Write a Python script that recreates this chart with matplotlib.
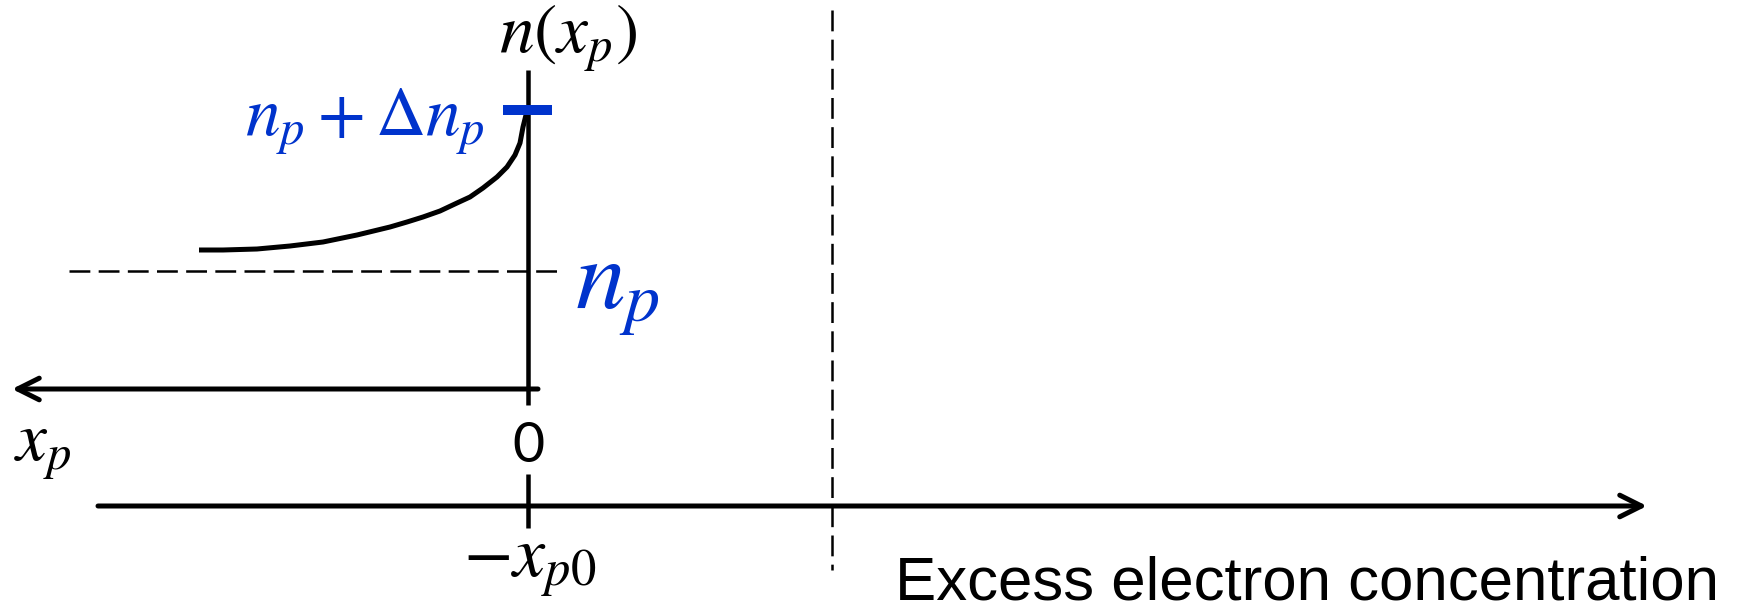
import matplotlib
matplotlib.use('Agg')
import matplotlib.pyplot as plt

# minority electron profile n(x_p) (pixel units, y down)
curve_x = [527, 526, 523, 520, 515, 507, 497, 483, 470, 457, 440, 423, 407, 390,
           357, 323, 290, 257, 223, 199]
curve_y = [110, 115, 127, 143, 155, 167, 177, 188, 197, 203, 211, 217, 222, 227,
           235, 242, 246, 249, 250, 250]

origin_x = 528          # x_p = 0 / -x_p0
level_np = 271          # equilibrium n_p
level_top = 110         # n_p + dn_p
junction_x = 832        # dashed junction edge

upper_axis_y = 389
lower_axis_y = 506

labels_black = [r'$n(x_p)$', r'$x_p$', '0', r'$-x_{p0}$']
labels_blue = [r'$n_p + \Delta n_p$', r'$n_p$']
xlabel_text = 'Excess electron concentration'

BLUE = '#0033cc'

plt.rcParams['mathtext.fontset'] = 'stix'
plt.rcParams['lines.scale_dashes'] = False

fig = plt.figure(figsize=(17.6, 6.11), dpi=100)
ax = fig.add_axes([0, 0, 1, 1])
ax.set_xlim(0, 1760)
ax.set_ylim(611, 0)
ax.axis('off')

lw = 3.6
dash = (15, 6)

# curve
ax.plot(curve_x, curve_y, color='black', lw=lw, solid_capstyle='butt',
        solid_joinstyle='round')

# vertical n axis
ax.plot([origin_x, origin_x], [70, 405], color='black', lw=lw * 0.9, solid_capstyle='butt')

# blue tick at n_p + dn_p
ax.plot([503, 552], [level_top, level_top], color=BLUE, lw=7.2, solid_capstyle='butt')

# dashed n_p level
ax.plot([69, 561], [level_np, level_np], color='black', lw=1.8, dashes=dash)

# dashed junction line
ax.plot([junction_x, junction_x], [10, 570], color='black', lw=1.8, dashes=dash)

# upper x_p axis pointing left
arrow = dict(arrowstyle='->,head_length=0.6,head_width=0.3', lw=lw,
             color='black', shrinkA=0, shrinkB=0, mutation_scale=26)
ax.annotate('', xy=(12, upper_axis_y), xytext=(538, upper_axis_y), arrowprops=arrow)

# lower axis pointing right
ax.annotate('', xy=(1647, lower_axis_y), xytext=(98, lower_axis_y), arrowprops=arrow)
ax.plot([origin_x, origin_x], [474, 528], color='black', lw=lw * 0.9, solid_capstyle='butt')

# labels
ax.text(568, 38, labels_black[0], fontsize=50, ha='center', va='center')
ax.text(43, 449, labels_black[1], fontsize=50, ha='center', va='center')
ax.text(528, 447, labels_black[2], fontsize=40, ha='center', va='center', family='Lato')
ax.text(530, 566, labels_black[3], fontsize=52, ha='center', va='center')

ax.text(485, 122, labels_blue[0], fontsize=50, ha='right', va='center', color=BLUE)
ax.text(575, 290, labels_blue[1], fontsize=72, ha='left', va='center', color=BLUE)

ax.text(895, 600, xlabel_text, fontsize=44.5, ha='left', va='baseline',
        family='Liberation Sans')

fig.savefig('out.png', dpi=100)
